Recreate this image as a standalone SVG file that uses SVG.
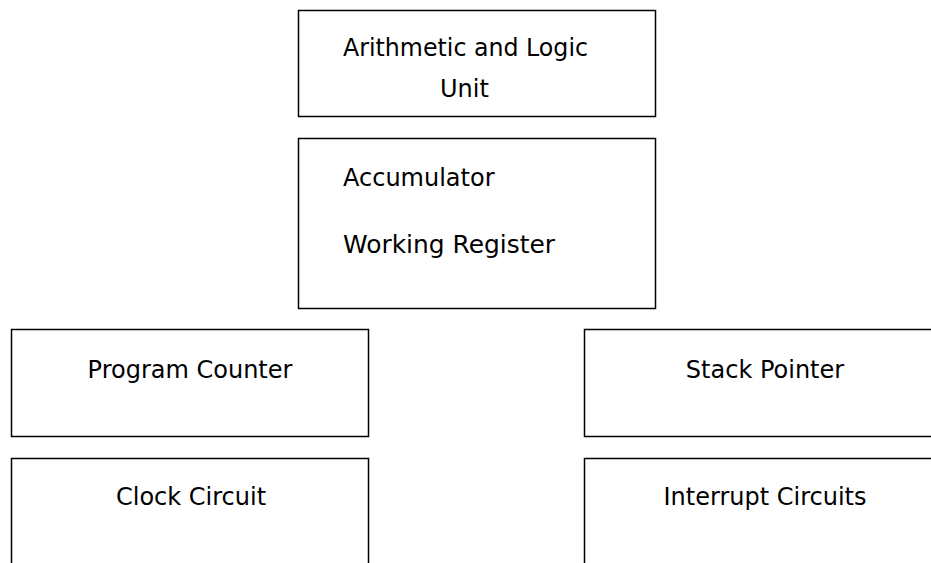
<svg xmlns="http://www.w3.org/2000/svg" width="931" height="563" viewBox="0 0 931 563">
<style>
.box{fill:#fff;stroke:#000;stroke-width:1.5}
.t{font-family:"DejaVu Sans","Liberation Sans",sans-serif;font-size:24px;fill:#000}
.c{text-anchor:middle}
</style>
<rect width="931" height="563" fill="#fff"/>
<g id="alu"><rect class="box" x="298.5" y="10.5" width="357" height="106"/>
<text class="t" x="343" y="56" textLength="245" lengthAdjust="spacingAndGlyphs">Arithmetic and Logic</text>
<text class="t" x="440" y="97">Unit</text></g>
<g id="acc"><rect class="box" x="298.5" y="138.5" width="357" height="170"/>
<text class="t" x="343" y="186">Accumulator</text>
<text class="t" x="343" y="253" textLength="212" lengthAdjust="spacingAndGlyphs">Working Register</text></g>
<g id="pc"><rect class="box" x="11.5" y="329.5" width="357" height="107"/>
<text class="t c" x="190" y="378">Program Counter</text></g>
<g id="sp"><rect class="box" x="584.5" y="329.5" width="360" height="107"/>
<text class="t c" x="765" y="378">Stack Pointer</text></g>
<g id="clock"><rect class="box" x="11.5" y="458.5" width="357" height="120"/>
<text class="t c" x="191" y="505">Clock Circuit</text></g>
<g id="irq"><rect class="box" x="584.5" y="458.5" width="360" height="120"/>
<text class="t c" x="765" y="505">Interrupt Circuits</text></g>
<g id="connectors"></g>
</svg>
